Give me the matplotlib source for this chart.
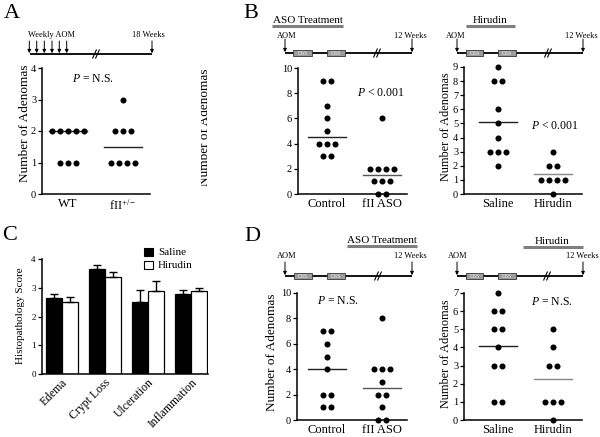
import matplotlib
matplotlib.use("Agg")
import matplotlib.pyplot as plt
from matplotlib.patches import Rectangle
import numpy as np

# == DATA ==
# Panel A: adenoma counts
a_cats = ["WT", "fII$^{+/-}$"]
a_wt = [2, 2, 2, 2, 2, 1, 1, 1]
a_fii = [3, 2, 2, 2, 1, 1, 1, 1]
a_lines = [2.0, 1.5]

# Panel B: ASO treatment / Hirudin
b_aso_cats = ["Control", "fII ASO"]
b_ctrl = [9, 9, 7, 6, 5, 4, 4, 4, 3, 3]
b_aso = [6, 2, 2, 2, 2, 1, 1, 1, 0, 0]
b_aso_lines = [4.5, 1.5]
b_hir_cats = ["Saline", "Hirudin"]
b_sal = [9, 8, 8, 6, 5, 4, 3, 3, 3, 2]
b_hir = [3, 2, 2, 1, 1, 1, 1, 0]
b_hir_lines = [5.1, 1.4]

# Panel C: histopathology scores
c_cats = ["Edema", "Crypt Loss", "Ulceration", "Inflammation"]
c_saline = [2.63, 3.64, 2.51, 2.77]
c_saline_err = [0.17, 0.16, 0.41, 0.15]
c_hirudin = [2.51, 3.38, 2.87, 2.87]
c_hirudin_err = [0.18, 0.18, 0.35, 0.13]

# Panel D
d_ctrl = [7, 7, 6, 5, 4, 2, 2, 1, 1]
d_aso = [8, 4, 4, 4, 3, 2, 2, 1, 0, 0]
d_aso_lines = [4.0, 2.5]
d_sal = [7, 6, 6, 5, 5, 4, 3, 3, 1, 1]
d_hir = [5, 4, 3, 3, 1, 1, 1, 0]
d_hir_lines = [4.1, 2.25]

# == CONFIG ==
plt.rcParams["font.family"] = "Liberation Serif"
plt.rcParams["mathtext.fontset"] = "custom"
plt.rcParams["mathtext.rm"] = "Liberation Serif"
plt.rcParams["mathtext.it"] = "Liberation Serif:italic"

W, H = 600, 437
fig = plt.figure(figsize=(6, 4.37), dpi=100)

ov = fig.add_axes([0, 0, 1, 1])
ov.set_xlim(0, W)
ov.set_ylim(H, 0)
ov.axis("off")


def px_axes(x0, yt, x1, yb):
    return fig.add_axes([x0 / W, 1 - yb / H, (x1 - x0) / W, (yb - yt) / H])


def style_axes(ax, tick_size=7.5):
    for s in ["top", "right"]:
        ax.spines[s].set_visible(False)
    for s in ["left", "bottom"]:
        ax.spines[s].set_linewidth(1.1)
    ax.tick_params(axis="y", direction="out", length=3, width=0.9,
                   labelsize=tick_size, pad=1.2)
    ax.tick_params(axis="x", length=0)
    ax.patch.set_alpha(0)


def scatter_panel(box, cat_px, groups, lines, ymax, cats, line_colors):
    x0, yt, x1, yb = box
    ax = px_axes(*box)
    s = cat_px[1] - cat_px[0]
    ax.set_xlim((x0 - cat_px[0]) / s, (x1 - cat_px[0]) / s)
    ax.set_ylim(0, ymax)
    dx = 7.8 / s
    for i, vals in enumerate(groups):
        vals = np.array(vals)
        for v in np.unique(vals):
            n = int(np.sum(vals == v))
            xs = i + (np.arange(n) - (n - 1) / 2) * dx
            ax.scatter(xs, [v] * n, s=19, color="k", linewidths=0,
                       zorder=3, clip_on=False)
        ax.plot([i - 19 / s, i + 19 / s], [lines[i]] * 2,
                color=line_colors[i], lw=1, zorder=2)
    style_axes(ax)
    ax.set_yticks(range(0, ymax + 1, 2 if ymax == 10 else 1))
    ax.set_xticks([0, 1])
    ax.set_xticklabels(cats, fontsize=9)
    ax.tick_params(axis="x", pad=3)
    return ax


def arrow(x, y0, y1):
    ov.annotate("", xy=(x, y1), xytext=(x, y0),
                arrowprops=dict(arrowstyle="-|>", color="k", lw=0.7,
                                mutation_scale=5, shrinkA=0, shrinkB=0))


def timeline(x0, x1, y, arrow_xs, arrow_top, base_y, left_txt, left_x,
             right_txt, right_x, break_x, dss=None):
    ov.plot([x0, x1], [y, y], color="k", lw=1.3, solid_capstyle="butt")
    for ax_ in arrow_xs:
        arrow(ax_, arrow_top, y - 0.8)
    for bx in [break_x - 1.5, break_x + 1.5]:
        ov.plot([bx - 1.8, bx + 1.8], [y + 4, y - 4], color="k", lw=0.8)
    ov.text(left_x, base_y, left_txt, fontsize=6, ha="center", va="baseline")
    ov.text(right_x, base_y, right_txt, fontsize=6, ha="center", va="baseline")
    if dss:
        for bx0, bx1 in dss:
            ov.add_patch(Rectangle((bx0, y - 3.2), bx1 - bx0, 6.4,
                                   facecolor="#9c9c9c", edgecolor="#333333",
                                   lw=0.6, zorder=3))
            ov.text((bx0 + bx1) / 2, y + 0.3, "DSS", fontsize=4,
                    color="#f2f2f2", ha="center", va="center", zorder=4)


def treatment(txt, cx, base_y, ux0, ux1, uy):
    ov.text(cx, base_y, txt, fontsize=8, ha="center", va="baseline")
    ov.plot([ux0, ux1], [uy, uy], color="#7f7f7f", lw=2.2,
            solid_capstyle="butt")


def ylab(x, y, txt, size=9.5, clip_x=None):
    t = ov.text(x, y, txt, rotation=90, fontsize=size, ha="center",
                va="center")
    if clip_x is not None:
        t.set_clip_on(True)
        t.set_clip_path(Rectangle((clip_x, 0), W, H, transform=ov.transData))


# == PANEL LETTERS ==
for lt, lx, ly in [("A", 4, 4), ("B", 243, 4), ("C", 2, 226), ("D", 244, 227)]:
    ov.text(lx, ly, lt, fontsize=16, ha="left", va="top")

# == PANEL A ==
timeline(30, 152, 54, [29.3, 36.7, 44.3, 52, 59.3, 66.7, 152], 41, 37,
         "Weekly AOM", 51, "18 Weeks", 148, 96)
scatter_panel((42, 68, 150, 194), (68, 123), [a_wt, a_fii], a_lines, 4,
              a_cats, ["#222222", "#222222"])
ylab(25, 123, "Number of Adenomas")
ov.text(93, 79, r"$P$ = N.S.", fontsize=8.5, ha="center", va="center")

# == PANEL B ==
treatment("ASO Treatment", 308, 23, 272, 343, 25.5)
timeline(285, 412, 53, [285, 412], 39, 38, "AOM", 287, "12 Weeks", 410, 377,
         dss=[(293, 312), (327, 345)])
scatter_panel((298, 68, 407, 194), (327, 382), [b_ctrl, b_aso], b_aso_lines,
              10, b_aso_cats, ["#222222", "#555555"])
ylab(205.5, 127, "Number of Adenomas", clip_x=201)
ov.text(381, 93, r"$P$ < 0.001", fontsize=8.5, ha="center", va="center")

treatment("Hirudin", 490, 23, 466, 515, 25.5)
timeline(457, 583, 53, [457, 583], 39, 38, "AOM", 456, "12 Weeks", 581, 548,
         dss=[(466, 483), (498, 516)])
scatter_panel((464, 67, 582, 194), (498, 553), [b_sal, b_hir], b_hir_lines,
              9, b_hir_cats, ["#222222", "#888888"])
ylab(446, 127, "Number of Adenomas", size=8.8)
ov.text(555, 126, r"$P$ < 0.001", fontsize=8.5, ha="center", va="center")

# == PANEL C ==
axc = px_axes(41.7, 259, 208, 374)
gs = 43.3
axc.set_xlim((41.7 - 61.5) / gs, (208 - 61.5) / gs)
axc.set_ylim(0, 4)
xc = np.arange(len(c_cats))
bw = 16 / gs
axc.bar(xc - bw / 2, c_saline, bw, color="k", edgecolor="k", lw=0.9)
axc.bar(xc + bw / 2, c_hirudin, bw, color="white", edgecolor="k", lw=0.9)
axc.errorbar(xc - bw / 2, c_saline, yerr=[[0] * 4, c_saline_err], fmt="none",
             ecolor="k", elinewidth=1, capsize=3, capthick=1)
axc.errorbar(xc + bw / 2, c_hirudin, yerr=[[0] * 4, c_hirudin_err],
             fmt="none", ecolor="k", elinewidth=1, capsize=3, capthick=1)
style_axes(axc, tick_size=6.5)
axc.set_yticks(range(5))
axc.set_xticks(xc)
axc.set_xticklabels(c_cats, rotation=45, ha="right", rotation_mode="anchor",
                    fontsize=8.5)
axc.tick_params(axis="x", pad=2)
ylab(21, 316, "Histopathology Score", size=8)
ov.add_patch(Rectangle((144, 248), 9, 8, facecolor="k", edgecolor="k", lw=0.8))
ov.add_patch(Rectangle((144, 261), 9, 8, facecolor="white", edgecolor="k",
                       lw=0.8))
ov.text(158, 252.5, "Saline", fontsize=8, ha="left", va="center")
ov.text(158, 265.5, "Hirudin", fontsize=8, ha="left", va="center")

# == PANEL D ==
treatment("ASO Treatment", 382, 243, 347, 417, 245.5)
timeline(285, 412, 276, [285, 412], 262, 258, "AOM", 287, "12 Weeks", 410,
         378, dss=[(294, 312), (327, 345)])
scatter_panel((297, 293, 407, 420), (327, 382), [d_ctrl, d_aso], d_aso_lines,
              10, b_aso_cats, ["#222222", "#555555"])
ylab(272, 352, "Number of Adenomas")
ov.text(338, 301, r"$P$ = N.S.", fontsize=8.5, ha="center", va="center")

treatment("Hirudin", 552, 244, 523, 583, 247)
timeline(457, 583, 276, [457, 583], 262, 258, "AOM", 458, "12 Weeks", 582,
         547, dss=[(466, 483), (498, 516)])
scatter_panel((464, 293, 582, 420), (498, 553), [d_sal, d_hir], d_hir_lines,
              7, b_hir_cats, ["#222222", "#888888"])
ylab(446, 354, "Number of Adenomas", size=8.8)
ov.text(552, 302, r"$P$ = N.S.", fontsize=8.5, ha="center", va="center")

fig.savefig("out.png", dpi=100)
